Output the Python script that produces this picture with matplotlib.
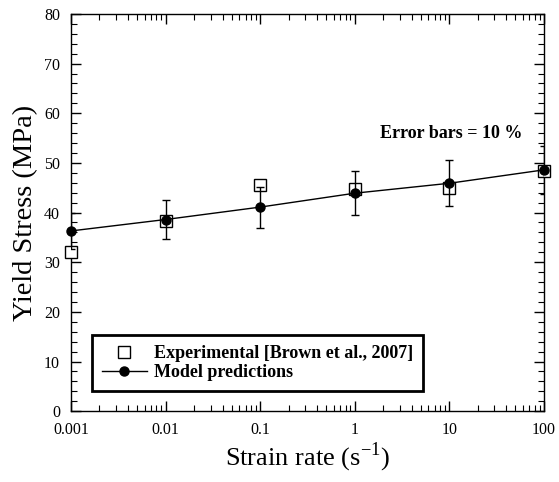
import matplotlib.pyplot as plt
import numpy as np
from matplotlib.ticker import FixedLocator, MultipleLocator, LogLocator, NullFormatter

plt.rcParams['font.family'] = ['Liberation Serif', 'DejaVu Serif']
plt.rcParams['mathtext.fontset'] = 'custom'
plt.rcParams['mathtext.rm'] = 'Liberation Serif'

# strain rates and stresses
strain_rate = [0.001, 0.01, 0.1, 1, 10, 100]
exp_stress = [32.0, 38.4, 45.6, 44.8, 45.0, 48.3]
model_stress = [36.3, 38.6, 41.1, 43.9, 45.9, 48.6]
err_frac = 0.10
xtick_labels = ['0.001', '0.01', '0.1', '1', '10', '100']

fig = plt.figure(figsize=(5.59, 4.82), dpi=100)
ax = fig.add_axes([0.127, 0.147, 0.846, 0.824])

model = np.array(model_stress)
ax.plot(strain_rate, exp_stress, 's', mfc='white', mec='black', mew=1.0, ms=9,
        linestyle='none', label='Experimental [Brown et al., 2007]', clip_on=False, zorder=3)
ax.errorbar(strain_rate, model, yerr=err_frac * model, fmt='none', ecolor='black',
            elinewidth=1, capsize=3, capthick=1, zorder=4)
ax.plot(strain_rate, model, '-o', color='black', lw=1, ms=6.5,
        label='Model predictions', clip_on=False, zorder=5)

ax.set_xscale('log')
ax.set_xlim(0.001, 100)
ax.set_ylim(0, 80)
ax.xaxis.set_major_locator(FixedLocator(strain_rate))
ax.set_xticklabels(xtick_labels)
ax.xaxis.set_minor_locator(LogLocator(base=10, subs=np.arange(2, 10)))
ax.xaxis.set_minor_formatter(NullFormatter())
ax.yaxis.set_major_locator(MultipleLocator(10))
ax.yaxis.set_minor_locator(MultipleLocator(2))

ax.tick_params(which='both', direction='in', top=True, right=True, labelsize=11.5, pad=8)
ax.tick_params(which='major', length=7, width=1)
ax.tick_params(which='minor', length=4.5, width=0.8)
for s in ax.spines.values():
    s.set_linewidth(1)

ax.set_xlabel('Strain rate (s$^{\\mathregular{-1}}$)', fontsize=19, labelpad=2)
ax.set_ylabel('Yield Stress (MPa)', fontsize=20.5, labelpad=4)

ax.text(0.653, 0.70, 'Error bars = 10 %', transform=ax.transAxes, fontsize=13,
        fontweight='bold', ha='left', va='center')

leg = ax.legend(loc='lower left', bbox_to_anchor=(0.044, 0.05), fancybox=False,
                edgecolor='black', framealpha=1, prop={'weight': 'bold', 'size': 13},
                handlelength=2.5, handletextpad=0.4, borderpad=0.55, labelspacing=0.12,
                borderaxespad=0)
leg.get_frame().set_linewidth(2)

fig.savefig('out.png', dpi=100)
